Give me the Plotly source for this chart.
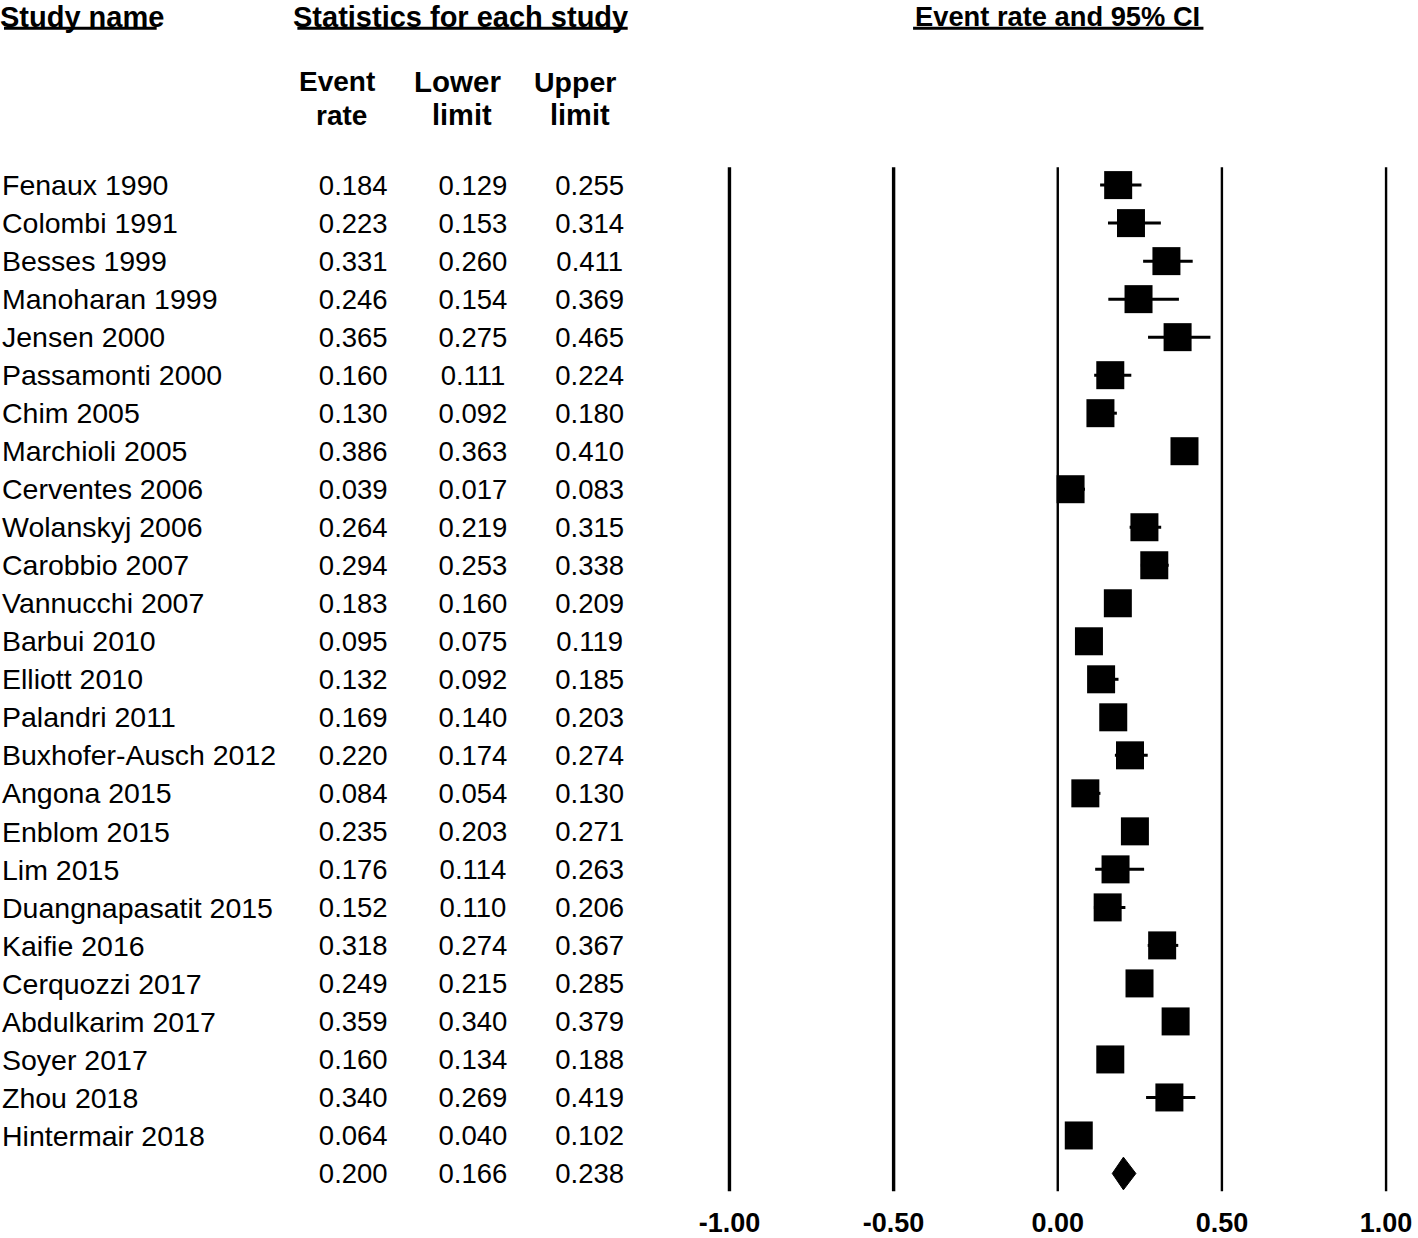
import plotly.graph_objects as go

# ---------------- data ----------------
studies = [
    "Fenaux 1990", "Colombi 1991", "Besses 1999", "Manoharan 1999", "Jensen 2000",
    "Passamonti 2000", "Chim 2005", "Marchioli 2005", "Cerventes 2006", "Wolanskyj 2006",
    "Carobbio 2007", "Vannucchi 2007", "Barbui 2010", "Elliott 2010", "Palandri 2011",
    "Buxhofer-Ausch 2012", "Angona 2015", "Enblom 2015", "Lim 2015", "Duangnapasatit 2015",
    "Kaifie 2016", "Cerquozzi 2017", "Abdulkarim 2017", "Soyer 2017", "Zhou 2018",
    "Hintermair 2018",
]
event_rate = [0.184, 0.223, 0.331, 0.246, 0.365, 0.160, 0.130, 0.386, 0.039, 0.264,
              0.294, 0.183, 0.095, 0.132, 0.169, 0.220, 0.084, 0.235, 0.176, 0.152,
              0.318, 0.249, 0.359, 0.160, 0.340, 0.064]
lower_limit = [0.129, 0.153, 0.260, 0.154, 0.275, 0.111, 0.092, 0.363, 0.017, 0.219,
               0.253, 0.160, 0.075, 0.092, 0.140, 0.174, 0.054, 0.203, 0.114, 0.110,
               0.274, 0.215, 0.340, 0.134, 0.269, 0.040]
upper_limit = [0.255, 0.314, 0.411, 0.369, 0.465, 0.224, 0.180, 0.410, 0.083, 0.315,
               0.338, 0.209, 0.119, 0.185, 0.203, 0.274, 0.130, 0.271, 0.263, 0.206,
               0.367, 0.285, 0.379, 0.188, 0.419, 0.102]
summary_rate = 0.200
summary_lower = 0.166
summary_upper = 0.238
x_ticks = [-1.0, -0.5, 0.0, 0.5, 1.0]
x_tick_labels = ["-1.00", "-0.50", "0.00", "0.50", "1.00"]

# ---------------- layout helpers ----------------
W, H = 1418, 1238
FONT = "Arial, Liberation Sans, sans-serif"


def px_x(p):
    return p / W


def px_y(p):
    return 1 - p / H


n = len(studies)
rows = list(range(n))
sum_row = n
ROW0, ROWSTEP = 186.0, 38.2
y_top_px, y_bot_px = 168, 1197
y_range = [(y_bot_px - ROW0) / ROWSTEP, (y_top_px - ROW0) / ROWSTEP]
TEXT_DY = 0.08  # text sits slightly lower than the square centres

fig = go.Figure()

# vertical reference lines at the tick values
for v in x_ticks:
    fig.add_shape(type="line", xref="x", yref="y domain", x0=v, x1=v, y0=0, y1=1,
                  line=dict(color="black", width=3.4 if v < 0 else 2.4), layer="below")

# study squares with CI whiskers
fig.add_trace(go.Scatter(
    x=event_rate, y=rows, mode="markers",
    marker=dict(symbol="square", size=28, color="black", line=dict(width=0)),
    error_x=dict(type="data", symmetric=False,
                 array=[u - r for u, r in zip(upper_limit, event_rate)],
                 arrayminus=[r - l for r, l in zip(event_rate, lower_limit)],
                 color="black", thickness=3, width=0),
    cliponaxis=False, showlegend=False, hoverinfo="skip",
))

# summary diamond
DH = 0.43
fig.add_trace(go.Scatter(
    x=[summary_lower, summary_rate, summary_upper, summary_rate, summary_lower],
    y=[sum_row, sum_row - DH, sum_row, sum_row + DH, sum_row],
    mode="lines", fill="toself", fillcolor="black",
    line=dict(color="black", width=1),
    showlegend=False, hoverinfo="skip",
))

# text columns (on xaxis2 which maps window pixels 0..700)
fig.add_trace(go.Scatter(
    x=[0] * n, y=[r + TEXT_DY for r in rows], mode="text", text=studies,
    textposition="middle right",
    textfont=dict(family=FONT, size=28.5, color="black"),
    xaxis="x2", yaxis="y", showlegend=False, hoverinfo="skip", cliponaxis=False,
))
all_rows = [r + TEXT_DY for r in rows + [sum_row]]
for xc, vals, sv in [(352, event_rate, summary_rate),
                     (472, lower_limit, summary_lower),
                     (589, upper_limit, summary_upper)]:
    fig.add_trace(go.Scatter(
        x=[xc] * (n + 1), y=all_rows, mode="text",
        text=[f"{v:.3f}" for v in vals + [sv]], textposition="middle center",
        textfont=dict(family=FONT, size=27.5, color="black"),
        xaxis="x2", yaxis="y", showlegend=False, hoverinfo="skip", cliponaxis=False,
    ))

# top headers (anchored to the top edge): (text, x px, anchor, size)
top_headers = [
    ("Study name", -3, "left", 29),
    ("Statistics for each study", 291, "left", 29),
    ("Event rate and 95% CI", 1058, "center", 27.3),
]
for txt, xp, anc, sz in top_headers:
    fig.add_annotation(text=txt, x=px_x(xp), y=1, xref="paper", yref="paper",
                       xanchor=anc, yanchor="top", showarrow=False, borderpad=0,
                       font=dict(family=FONT, size=sz, color="black", weight="bold"))

# column headers: (text, x px, y px, size)
col_headers = [
    ("Event", 336, 82, 28),
    ("rate", 340, 116, 28),
    ("Lower", 456, 82, 29.5),
    ("limit", 461, 116, 29),
    ("Upper", 574, 82, 28.5),
    ("limit", 579, 116, 29),
]
for txt, xp, yp, sz in col_headers:
    fig.add_annotation(text=txt, x=px_x(xp), y=px_y(yp), xref="paper", yref="paper",
                       xanchor="center", yanchor="middle", showarrow=False, borderpad=0,
                       font=dict(family=FONT, size=sz, color="black", weight="bold"))

underlines = [(2, 155), (296, 627), (913, 1204)]
for x0, x1 in underlines:
    fig.add_shape(type="line", xref="paper", yref="paper",
                  x0=px_x(x0), x1=px_x(x1), y0=px_y(28.5), y1=px_y(28.5),
                  line=dict(color="black", width=3))

x_lo_px, x_hi_px = 700, 1412
ppu = (1387 - 729) / 2.0
x_range = [-1 - (729 - x_lo_px) / ppu, 1 + (x_hi_px - 1387) / ppu]

fig.update_layout(
    width=W, height=H, margin=dict(l=0, r=0, t=0, b=0),
    paper_bgcolor="white", plot_bgcolor="white",
    xaxis=dict(domain=[px_x(x_lo_px), px_x(x_hi_px)], range=x_range,
               tickvals=x_ticks, ticktext=x_tick_labels,
               tickfont=dict(family=FONT, size=27, color="black", weight="bold"),
               showgrid=False, zeroline=False, showline=False, ticks="",
               ticklabelstandoff=13, fixedrange=True),
    xaxis2=dict(domain=[0, px_x(x_lo_px)], range=[0, x_lo_px], visible=False,
                anchor="y", fixedrange=True),
    yaxis=dict(domain=[px_y(y_bot_px), px_y(y_top_px)], range=y_range,
               visible=False, fixedrange=True),
)

fig.write_html("out.html", config={"displayModeBar": False},
               post_script="document.body.style.margin='0px';"
                           "document.body.style.overflow='hidden';")
